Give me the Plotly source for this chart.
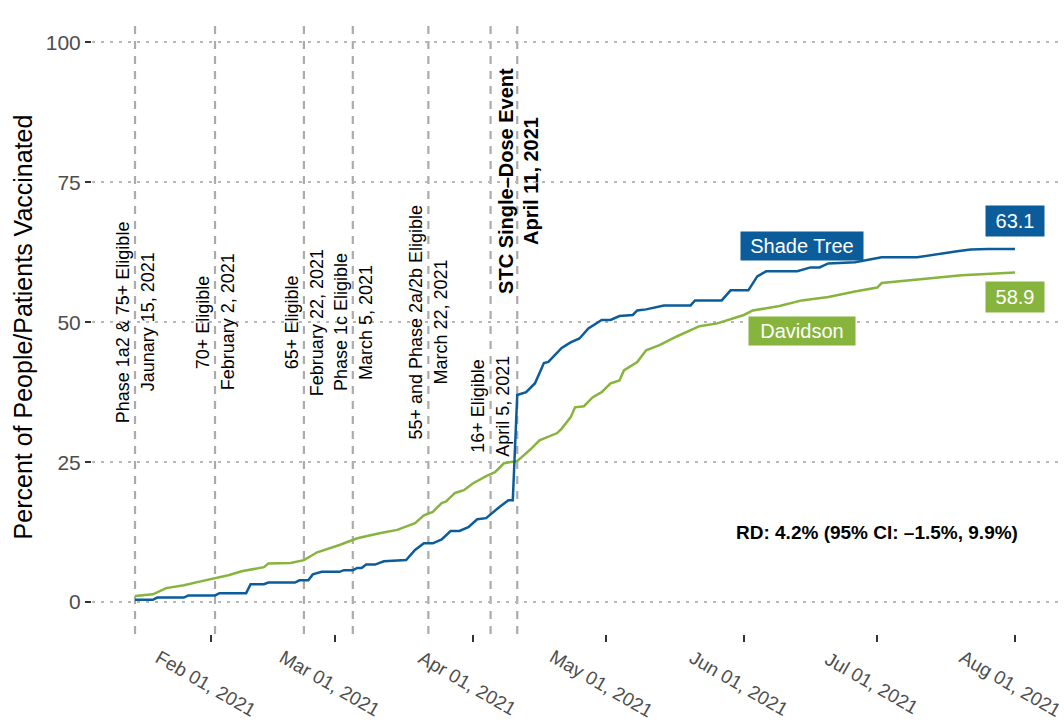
import plotly.graph_objects as go

FONT = "Liberation Sans, Arial, sans-serif"
BLUE = "#0b5c9a"
GREEN = "#86b43c"

# ---- data ----
shade_dates = ["2021-01-15", "2021-01-19", "2021-01-20", "2021-01-26", "2021-01-27", "2021-02-02",
               "2021-02-03", "2021-02-09", "2021-02-10", "2021-02-13", "2021-02-14", "2021-02-20",
               "2021-02-21", "2021-02-23", "2021-02-24", "2021-02-26", "2021-03-02", "2021-03-03",
               "2021-03-05", "2021-03-06", "2021-03-07", "2021-03-08", "2021-03-10", "2021-03-12",
               "2021-03-17", "2021-03-19", "2021-03-21", "2021-03-23", "2021-03-25", "2021-03-27",
               "2021-03-29", "2021-03-31", "2021-04-02", "2021-04-04", "2021-04-07", "2021-04-09",
               "2021-04-10", "2021-04-11", "2021-04-13", "2021-04-15", "2021-04-17", "2021-04-18",
               "2021-04-21", "2021-04-23", "2021-04-25", "2021-04-27", "2021-04-30", "2021-05-02",
               "2021-05-04", "2021-05-07", "2021-05-08", "2021-05-10", "2021-05-14", "2021-05-20",
               "2021-05-21", "2021-05-27", "2021-05-29", "2021-06-02", "2021-06-04", "2021-06-06",
               "2021-06-13", "2021-06-16", "2021-06-18", "2021-06-20", "2021-06-26", "2021-06-29",
               "2021-07-02", "2021-07-10", "2021-07-13", "2021-07-16", "2021-07-19", "2021-07-22",
               "2021-07-26", "2021-08-01"]
shade_vals = [0.4, 0.4, 0.8, 0.8, 1.2, 1.2,
              1.6, 1.6, 3.2, 3.2, 3.5, 3.5,
              3.9, 3.9, 4.95, 5.4, 5.4, 5.7,
              5.7, 6.1, 6.1, 6.7, 6.7, 7.3,
              7.5, 9.3, 10.5, 10.5, 11.2, 12.7,
              12.7, 13.4, 14.8, 15.0, 17.0, 18.2,
              18.2, 37.0, 37.5, 39.1, 42.7, 42.9,
              45.4, 46.4, 47.1, 48.9, 50.4, 50.4,
              51.1, 51.3, 52.1, 52.3, 53.0, 53.0,
              53.9, 53.9, 55.7, 55.7, 58.2, 59.1,
              59.1, 59.8, 59.8, 60.5, 60.7, 61.1,
              61.6, 61.6, 62.0, 62.3, 62.7, 63.0,
              63.1, 63.1]

davidson_dates = ["2021-01-15", "2021-01-19", "2021-01-22", "2021-01-26", "2021-01-30", "2021-02-02",
                  "2021-02-05", "2021-02-08", "2021-02-13", "2021-02-14", "2021-02-19", "2021-02-22",
                  "2021-02-25", "2021-03-02", "2021-03-06", "2021-03-11", "2021-03-15", "2021-03-19",
                  "2021-03-21", "2021-03-23", "2021-03-25", "2021-03-26", "2021-03-28", "2021-03-30",
                  "2021-04-01", "2021-04-04", "2021-04-06", "2021-04-08", "2021-04-11", "2021-04-12",
                  "2021-04-14", "2021-04-16", "2021-04-20", "2021-04-21", "2021-04-23", "2021-04-24",
                  "2021-04-26", "2021-04-28", "2021-04-30", "2021-05-02", "2021-05-04", "2021-05-05",
                  "2021-05-08", "2021-05-10", "2021-05-13", "2021-05-17", "2021-05-22", "2021-05-26",
                  "2021-05-29", "2021-06-01", "2021-06-03", "2021-06-09", "2021-06-14", "2021-06-20",
                  "2021-06-26", "2021-07-01", "2021-07-02", "2021-07-11", "2021-07-20", "2021-08-01"]
davidson_vals = [1.1, 1.4, 2.5, 3.0, 3.75, 4.3,
                 4.8, 5.5, 6.25, 6.9, 7.0, 7.5,
                 8.9, 10.2, 11.4, 12.3, 12.9, 14.1,
                 15.5, 16.1, 17.7, 18.0, 19.5, 20.0,
                 21.2, 22.5, 23.2, 24.8, 25.2, 25.9,
                 27.3, 28.9, 30.2, 31.0, 33.0, 34.8,
                 35.0, 36.6, 37.5, 39.1, 39.6, 41.4,
                 42.9, 45.0, 45.9, 47.5, 49.3, 49.8,
                 50.6, 51.3, 52.1, 52.9, 53.9, 54.5,
                 55.5, 56.2, 57.0, 57.7, 58.4, 58.9]

event_dates = ["2021-01-15", "2021-02-02", "2021-02-22", "2021-03-05", "2021-03-22", "2021-04-05", "2021-04-11"]
event_line1 = ["Phase 1a2 & 75+ Eligible", "70+ Eligible", "65+ Eligible", "Phase 1c Eligible",
               "55+ and Phase 2a/2b Eligible", "16+ Eligible", "STC Single\u2013Dose Event"]
event_line2 = ["Jaunary 15, 2021", "February 2, 2021", "February 22, 2021", "March 5, 2021",
               "March 22, 2021", "April 5, 2021", "April 11, 2021"]
event_label_y = [50, 50, 50, 50, 50, 35, 75.3]
event_bold = [False, False, False, False, False, False, True]

month_ticks = ["2021-02-01", "2021-03-01", "2021-04-01", "2021-05-01", "2021-06-01", "2021-07-01", "2021-08-01"]
month_labels = ["Feb 01, 2021", "Mar 01, 2021", "Apr 01, 2021", "May 01, 2021",
                "Jun 01, 2021", "Jul 01, 2021", "Aug 01, 2021"]
y_ticks = [0, 25, 50, 75, 100]

series_names = ["Shade Tree", "Davidson"]
final_values = ["63.1", "58.9"]
name_label_pos = [("2021-06-14", 63.6), ("2021-06-14", 48.5)]
name_label_w = [120, 104]
final_label_pos = [("2021-08-01", 68.0), ("2021-08-01", 54.6)]
rd_text = "RD: 4.2% (95% CI: \u20131.5%, 9.9%)"

# ---- figure ----
fig = go.Figure()
fig.add_trace(go.Scatter(x=davidson_dates, y=davidson_vals, mode="lines",
                         line=dict(color=GREEN, width=2.5), name=series_names[1], showlegend=False))
fig.add_trace(go.Scatter(x=shade_dates, y=shade_vals, mode="lines",
                         line=dict(color=BLUE, width=2.5), name=series_names[0], showlegend=False))

for d in event_dates:
    fig.add_shape(type="line", x0=d, x1=d, y0=0, y1=1, xref="x", yref="paper",
                  line=dict(color="#ababab", width=2.2, dash="8px,7px"), layer="below")

for d, l1, l2, yv, b in zip(event_dates, event_line1, event_line2, event_label_y, event_bold):
    size = 20 if b else 18
    w1 = f"<b>{l1}</b>" if b else l1
    w2 = f"<b>{l2}</b>" if b else l2
    for txt, sh in ((w1, -12), (w2, 13)):
        fig.add_annotation(x=d, y=yv, xref="x", yref="y", text=txt, textangle=-90,
                           showarrow=False, xanchor="center", yanchor="middle", xshift=sh,
                           font=dict(family=FONT, size=size, color="#000000"))

for d, lab in zip(month_ticks, month_labels):
    fig.add_annotation(x=d, y=-0.08, xref="x", yref="paper", text=lab, textangle=30,
                       showarrow=False, xanchor="center", yanchor="middle", xshift=-5,
                       borderpad=0, font=dict(family=FONT, size=19, color="#4d4d4d"))

colors = [BLUE, GREEN]
for (d, yv), name, c, w in zip(name_label_pos, series_names, colors, name_label_w):
    fig.add_annotation(x=d, y=yv, xref="x", yref="y", text=name, showarrow=False,
                       bgcolor=c, borderpad=1, width=w, height=26,
                       font=dict(family=FONT, size=20, color="white"))
for (d, yv), val, c in zip(final_label_pos, final_values, colors):
    fig.add_annotation(x=d, y=yv, xref="x", yref="y", text=val, showarrow=False,
                       bgcolor=c, borderpad=1, width=56, height=28,
                       font=dict(family=FONT, size=20, color="white"))

fig.add_annotation(x="2021-07-01", y=12.5, xref="x", yref="y", text=f"<b>{rd_text}</b>",
                   showarrow=False, font=dict(family=FONT, size=19, color="#000000"))

fig.update_layout(
    width=1064, height=724,
    margin=dict(l=92, r=0, t=20, b=90),
    paper_bgcolor="white", plot_bgcolor="white",
    font=dict(family=FONT),
    xaxis=dict(type="date", range=["2021-01-05 07:40", "2021-08-12 00:30"],
               tickvals=month_ticks, showticklabels=False, ticks="outside", ticklen=7,
               tickwidth=2, tickcolor="#333333", showgrid=False, zeroline=False, showline=False),
    yaxis=dict(range=[-5.7, 104], tickvals=y_ticks, ticks="outside", ticklen=6, tickwidth=2,
               tickcolor="#333333", tickfont=dict(family=FONT, size=21, color="#4d4d4d"),
               showgrid=True, gridcolor="#b8b8b8", gridwidth=2, griddash="3px,6px",
               zeroline=False, showline=False,
               title=dict(text="Percent of People/Patients Vaccinated", standoff=6,
                          font=dict(family=FONT, size=25, color="#000000"))),
)

fig.write_html("out.html")
